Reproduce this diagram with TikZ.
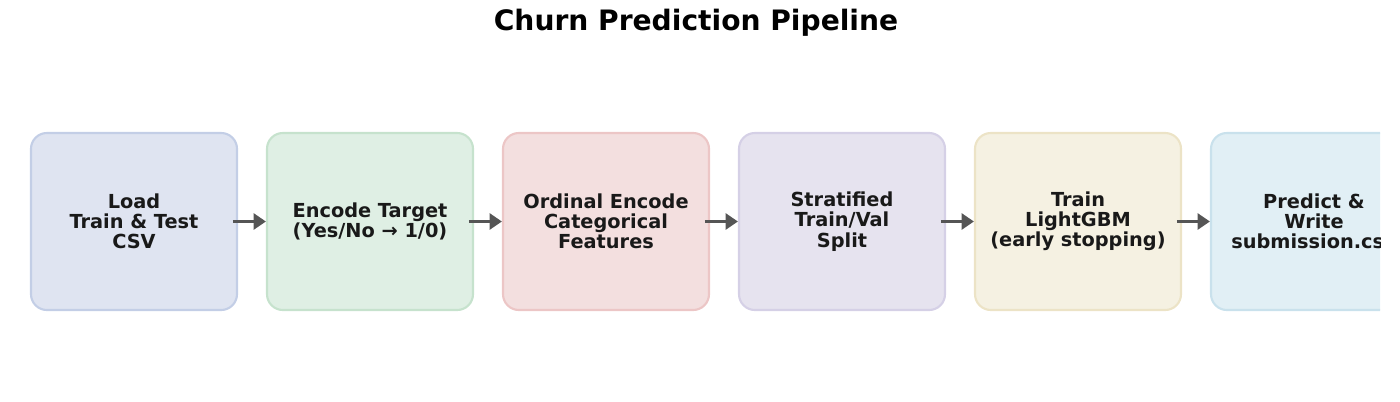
\documentclass[tikz,border=0pt]{standalone}
\usepackage{fontspec}
\setmainfont{DejaVu Sans}
\usetikzlibrary{arrows.meta}
\definecolor{fillA}{HTML}{DFE4F1}\definecolor{lineA}{HTML}{C3CEE6}
\definecolor{fillB}{HTML}{DFEFE4}\definecolor{lineB}{HTML}{C6E2CD}
\definecolor{fillC}{HTML}{F3DFDF}\definecolor{lineC}{HTML}{ECC6C6}
\definecolor{fillD}{HTML}{E6E3EF}\definecolor{lineD}{HTML}{D5D0E6}
\definecolor{fillE}{HTML}{F5F1E2}\definecolor{lineE}{HTML}{ECE3C6}
\definecolor{fillF}{HTML}{E1EFF5}\definecolor{lineF}{HTML}{C9E1EC}
\definecolor{arrowgray}{HTML}{555555}
\tikzset{
  step/.style={draw=#1, line width=1.2pt, rounded corners=9pt, minimum width=4.12cm,
    minimum height=3.54cm, align=center, font=\bfseries\fontsize{11}{11.5}\selectfont,
    text=black!90},
  flow/.style={-{Triangle[length=7pt,width=9pt]}, line width=2pt, draw=arrowgray, shorten <=-3pt}
}
\begin{document}
\begin{tikzpicture}
  \useasboundingbox (0,0) rectangle (28,-8.02);
  \node[font=\bfseries\fontsize{16}{18}\selectfont] (title) at (13.92,-0.46) {Churn Prediction Pipeline};
  \begin{scope}
    \clip (0,0) rectangle (27.6,-8.02);
    % steps
    \node[step=lineA, fill=fillA] (load) at (2.68,-4.43) {Load\\Train \& Test\\CSV};
    \node[step=lineB, fill=fillB] (enc) at (7.40,-4.43) {Encode Target\\(Yes/No → 1/0)};
    \node[step=lineC, fill=fillC] (ord) at (12.12,-4.43) {Ordinal Encode\\Categorical\\Features};
    \node[step=lineD, fill=fillD] (split) at (16.84,-4.43) {Stratified\\Train/Val\\Split};
    \node[step=lineE, fill=fillE] (train) at (21.56,-4.43) {Train\\LightGBM\\(early stopping)};
    \node[step=lineF, fill=fillF] (pred) at (26.28,-4.43) {Predict \&\\Write\\submission.csv};
    % arrows
    \draw[flow] (load) -- (enc);
    \draw[flow] (enc) -- (ord);
    \draw[flow] (ord) -- (split);
    \draw[flow] (split) -- (train);
    \draw[flow] (train) -- (pred);
  \end{scope}
\end{tikzpicture}
\end{document}
